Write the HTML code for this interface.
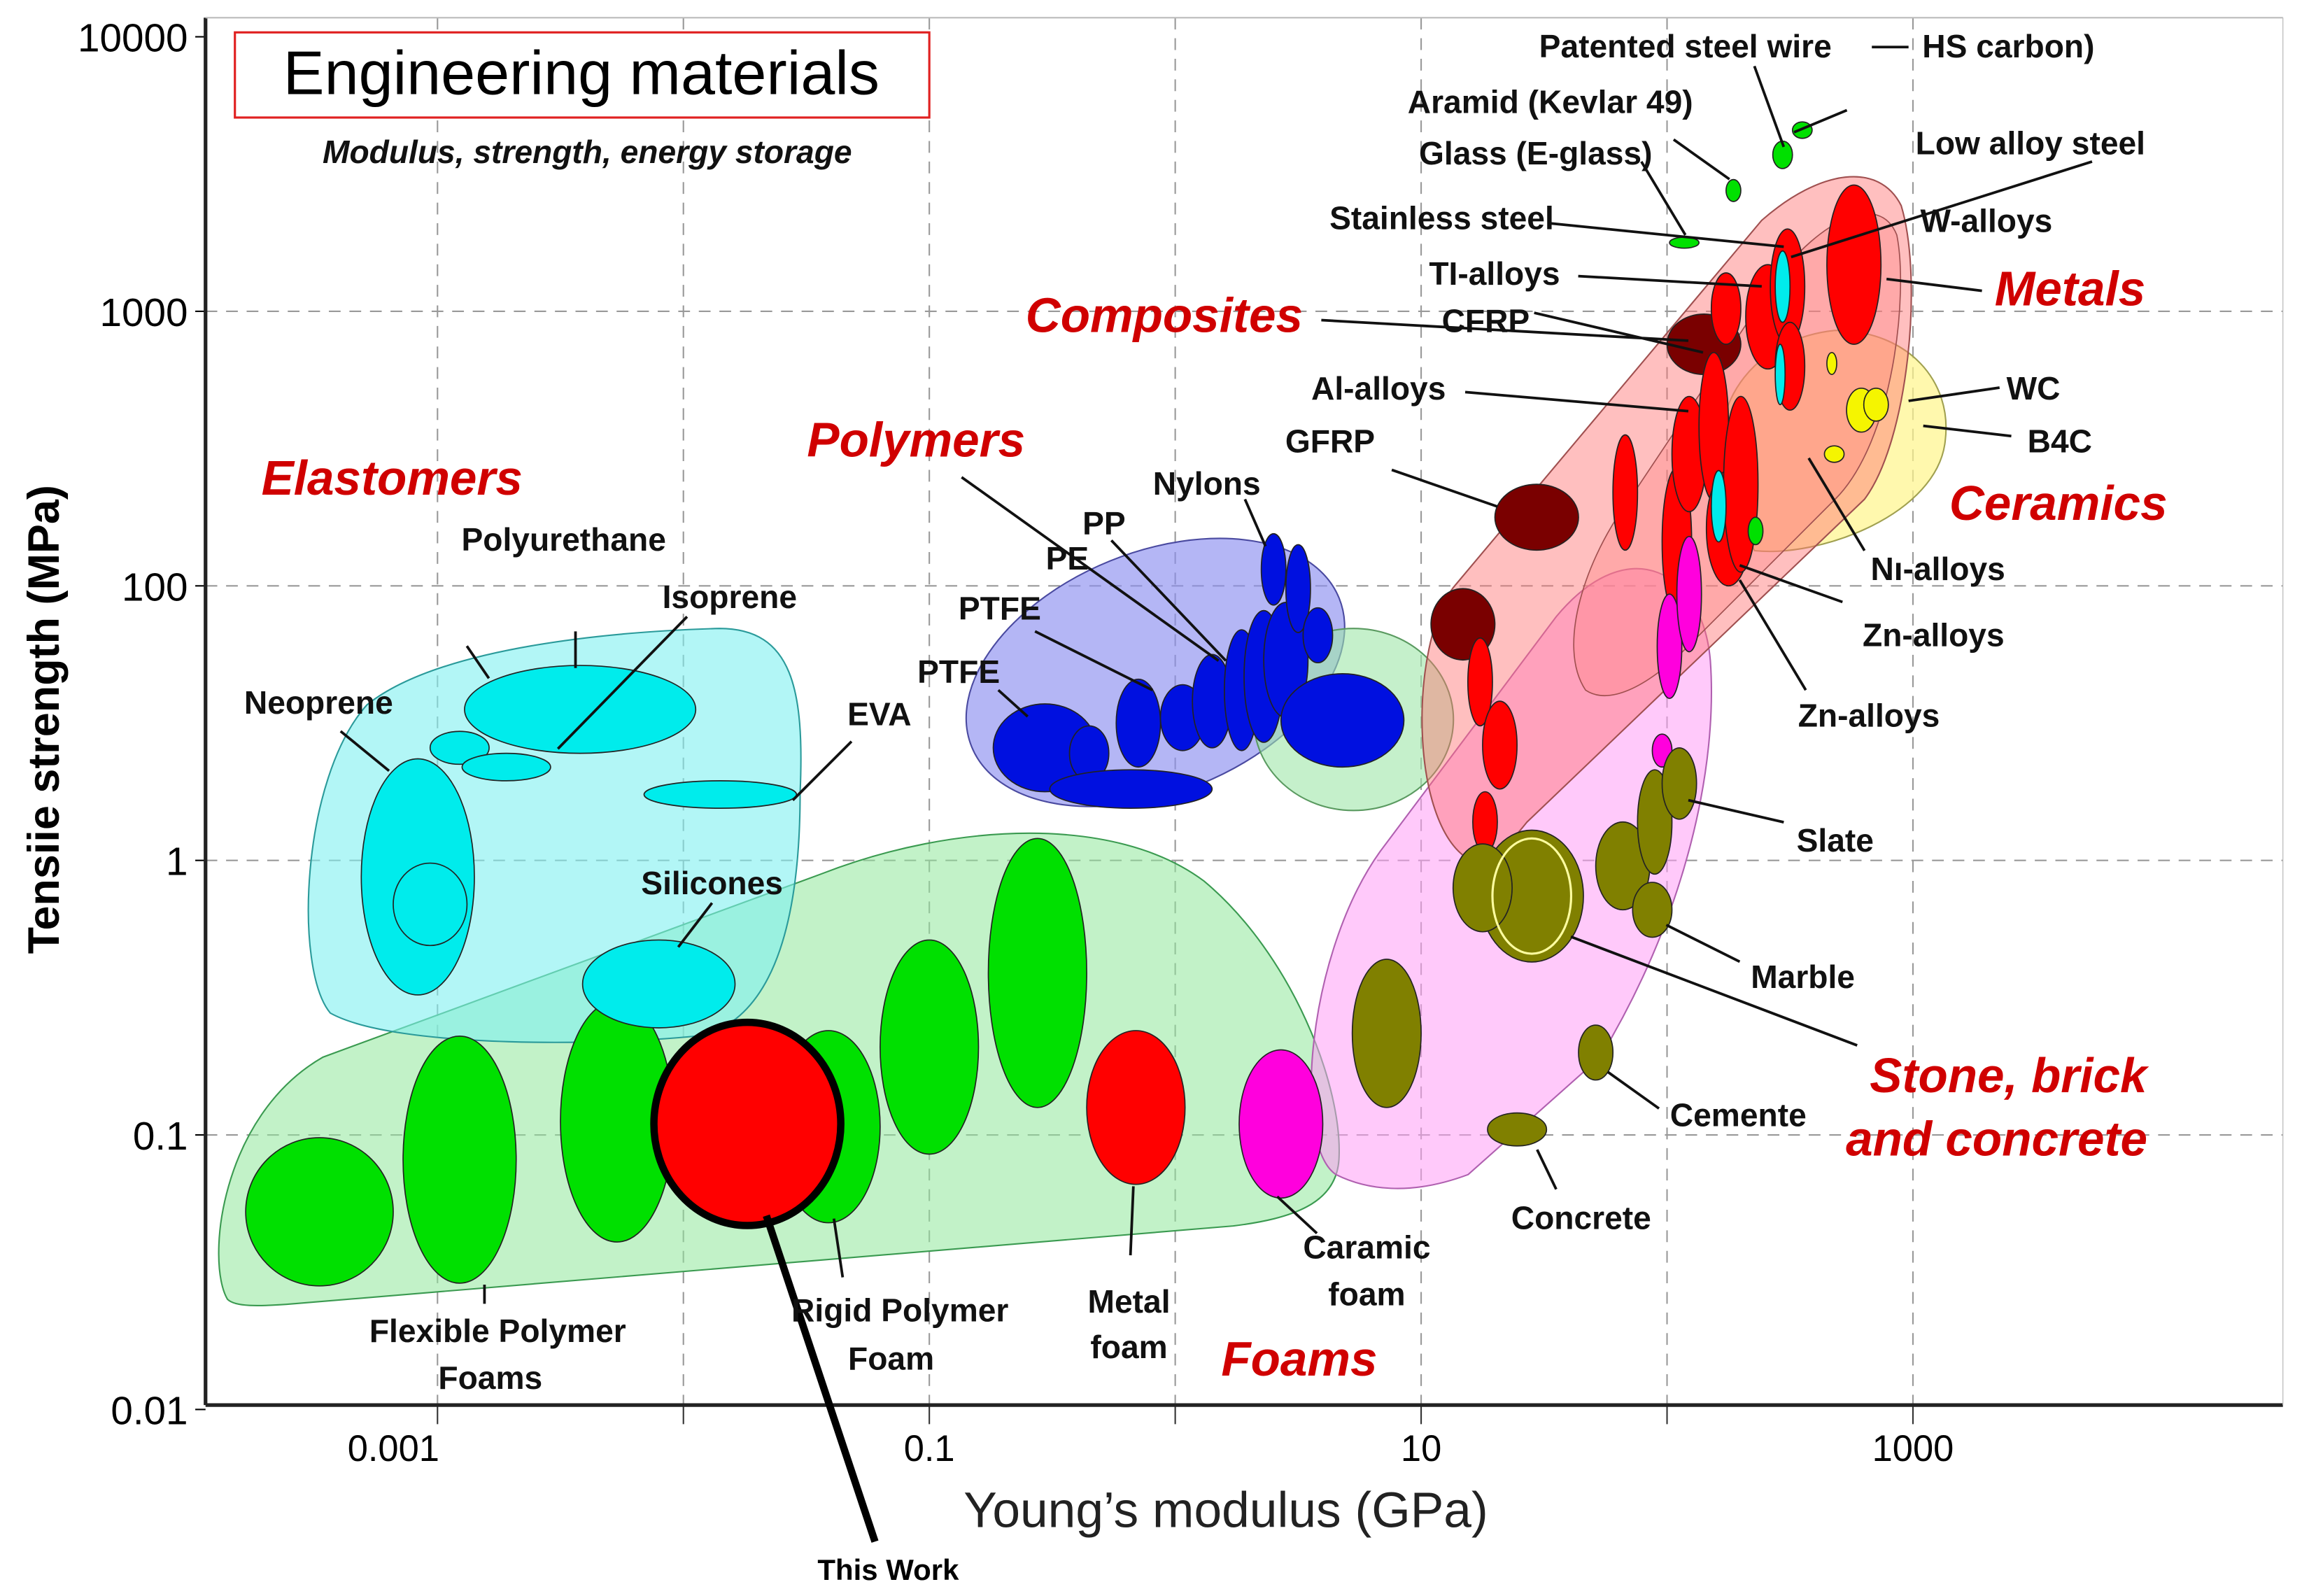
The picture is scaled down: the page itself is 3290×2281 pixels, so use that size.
<!DOCTYPE html>
<html><head><meta charset="utf-8"><style>
html,body{margin:0;padding:0;background:#fff;}
svg{display:block;}
text{font-family:"Liberation Sans",sans-serif;}
.lb{font-weight:bold;font-size:22px;fill:#111;text-anchor:middle;}
.cat{font-weight:bold;font-style:italic;font-size:33px;fill:#d00000;text-anchor:middle;}
.ld{stroke:#111;stroke-width:1.8;fill:none;}
</style></head><body>
<svg id="chart" width="3290" height="2281" viewBox="0 0 1568 1087" xmlns="http://www.w3.org/2000/svg">
<rect width="1568" height="1087" fill="#fff"/>
<g id="grid"></g>
<g id="env">
 <path d="M155,885 C140,860 150,760 220,720 L560,595 C650,560 760,555 820,600 C880,650 915,740 912,790 C910,820 880,830 840,835 L200,888 C175,890 160,890 155,885Z" fill="#8fe89a" fill-opacity="0.55" stroke="#3a9a50" stroke-width="1"/>
 <path d="M225,690 C200,660 205,530 250,480 C300,440 420,430 490,428 C540,428 548,470 545,540 C545,620 530,690 480,705 C420,712 270,715 225,690Z" fill="#7ff0f0" fill-opacity="0.6" stroke="#2a9a9a" stroke-width="1"/>
 <ellipse cx="787" cy="458" rx="135" ry="82" transform="rotate(-22 787 458)" fill="#8c8ff0" fill-opacity="0.65" stroke="#4a4aa0" stroke-width="1"/>
 <ellipse cx="922" cy="490" rx="68" ry="62" fill="#9ee6a8" fill-opacity="0.6" stroke="#5a9a60" stroke-width="1"/>
 <path d="M910,800 C880,780 890,650 940,580 L1060,420 C1110,360 1160,390 1165,450 C1170,520 1150,620 1090,720 L1000,800 C960,815 930,810 910,800Z" fill="#ff9cf5" fill-opacity="0.55" stroke="#b060b0" stroke-width="1"/>
 <path d="M1175,330 C1160,270 1200,230 1250,225 C1300,225 1330,260 1325,300 C1320,350 1240,380 1195,375Z" fill="#fff58a" fill-opacity="0.7" stroke="#a0a050" stroke-width="1"/>
 <path d="M1000,585 C960,560 960,440 990,400 L1200,150 C1240,115 1280,110 1295,140 C1310,190 1300,300 1270,340 L1040,560 C1020,585 1010,590 1000,585Z" fill="#ff7070" fill-opacity="0.45" stroke="#a05050" stroke-width="1"/>
 <path d="M1080,470 C1060,440 1080,380 1110,340 L1210,190 C1240,150 1280,130 1292,160 C1300,200 1290,300 1250,340 L1150,440 C1120,470 1095,480 1080,470Z" fill="#ff8080" fill-opacity="0.35" stroke="#a05050" stroke-width="0.8"/>
</g>
<g id="marks"></g>
<g id="axes"></g>
<g id="labels">
 <rect x="160" y="22" width="473" height="58" fill="#fff" stroke="#e02020" stroke-width="1.5"/>
 <text x="396" y="64" font-size="42" text-anchor="middle" fill="#000">Engineering materials</text>
 <text x="400" y="111" font-size="22" font-weight="bold" font-style="italic" text-anchor="middle" fill="#111">Modulus, strength, energy storage</text>
 <text transform="translate(40,490) rotate(-90)" font-size="30" font-weight="bold" text-anchor="middle" fill="#000">Tensiie strength (MPa)</text>
 <text x="835" y="1040" font-size="34" text-anchor="middle" fill="#222">Young’s modulus (GPa)</text>

 <text class="cat" x="267" y="337">Elastomers</text>
 <text class="cat" x="624" y="311">Polymers</text>
 <text class="cat" x="793" y="226">Composites</text>
 <text class="cat" x="1410" y="208">Metals</text>
 <text class="cat" x="1402" y="354">Ceramics</text>
 <text class="cat" x="1368" y="744">Stone, brick</text>
 <text class="cat" x="1360" y="787">and concrete</text>
 <text class="cat" x="885" y="937">Foams</text>

 <g>
 <path class="ld" d="M1195,45 L1215,100 M1275,32 L1300,32 M1258,75 L1222,90 M1140,95 L1178,122 M1118,110 L1148,160 M1055,152 L1215,168 M1425,110 L1220,175 M1350,198 L1285,190 M1075,188 L1200,195 M900,218 L1150,232 M1045,213 L1160,240 M998,267 L1150,280 M1362,264 L1300,273 M1370,297 L1310,290 M948,320 L1020,345 M1270,375 L1232,312 M1255,410 L1185,385 M1230,470 L1185,395 M1215,560 L1150,545 M1185,655 L1135,630 M1265,712 L1070,638 M1130,755 L1095,730 M1060,810 L1047,783 M333,462 L318,440 M392,455 L392,430 M468,420 L380,510 M232,498 L265,525 M580,505 L540,545 M485,615 L462,645 M655,325 L830,450 M757,368 L835,450 M705,430 L785,470 M680,470 L700,488 M848,340 L862,372 M330,875 L330,888 M568,830 L574,870 M772,808 L770,855 M870,815 L897,840"/>
 <path d="M522,828 L596,1050" stroke="#000" stroke-width="5" fill="none"/>
 </g>
 <text class="lb" x="1148" y="39">Patented steel wire</text>
 <text class="lb" x="1368" y="39">HS carbon)</text>
 <text class="lb" x="1056" y="77">Aramid (Kevlar 49)</text>
 <text class="lb" x="1046" y="112">Glass (E-glass)</text>
 <text class="lb" x="982" y="156">Stainless steel</text>
 <text class="lb" x="1383" y="105">Low alloy steel</text>
 <text class="lb" x="1353" y="158">W-alloys</text>
 <text class="lb" x="1018" y="194">TI-alloys</text>
 <text class="lb" x="1012" y="226">CFRP</text>
 <text class="lb" x="939" y="272">Al-alloys</text>
 <text class="lb" x="906" y="308">GFRP</text>
 <text class="lb" x="1385" y="272">WC</text>
 <text class="lb" x="1403" y="308">B4C</text>
 <text class="lb" x="1320" y="395">Nı-alloys</text>
 <text class="lb" x="1317" y="440">Zn-alloys</text>
 <text class="lb" x="1273" y="495">Zn-alloys</text>
 <text class="lb" x="1250" y="580">Slate</text>
 <text class="lb" x="1228" y="673">Marble</text>
 <text class="lb" x="1184" y="767">Cemente</text>
 <text class="lb" x="1077" y="837">Concrete</text>
 <text class="lb" x="384" y="375">Polyurethane</text>
 <text class="lb" x="497" y="414">Isoprene</text>
 <text class="lb" x="217" y="486">Neoprene</text>
 <text class="lb" x="599" y="494">EVA</text>
 <text class="lb" x="485" y="609">Silicones</text>
 <text class="lb" x="822" y="337">Nylons</text>
 <text class="lb" x="752" y="364">PP</text>
 <text class="lb" x="727" y="388">PE</text>
 <text class="lb" x="681" y="422">PTFE</text>
 <text class="lb" x="653" y="465">PTFE</text>
 <text class="lb" x="339" y="914">Flexible Polymer</text>
 <text class="lb" x="334" y="946">Foams</text>
 <text class="lb" x="613" y="900">Rigid Polymer</text>
 <text class="lb" x="607" y="933">Foam</text>
 <text class="lb" x="769" y="894">Metal</text>
 <text class="lb" x="769" y="925">foam</text>
 <text class="lb" x="931" y="857">Caramic</text>
 <text class="lb" x="931" y="889">foam</text>
 <text x="605" y="1076" font-size="20" font-weight="bold" text-anchor="middle" fill="#000">This Work</text>
</g>
<script>
const xTickValues=[0.001,0.1,10,1000];
const xTickLabels=["0.001","0.1","10","1000"];
const yTickValues=[10000,1000,100,10,1,0.1];
const yTickLabels=["10000","1000","100","1","0.1","0.01"];
// ellipses: log10 modulus, log10 strength, half-widths in decades, colour key
const logE=[-3.48,-2.91,-2.27,-1.41,-1,-0.56,-0.16,0.43,
 -3.08,-3.03,-2.91,-2.72,-2.42,-1.85,-2.10,
 -0.53,-0.35,-0.18,-0.15,0.03,0.15,0.27,0.36,0.45,0.40,0.50,0.58,0.68,
 1.47,1.17,2.15,
 1.24,1.32,1.26,1.83,2.04,2.09,2.19,2.25,2.30,2.24,2.41,2.49,2.76,2.50,
 2.47,2.46,2.21,
 2.01,2.09,1.98,
 2.79,2.85,2.67,2.68,
 2.27,2.07,2.47,2.55,2.36,
 1.45,1.25,1.82,1.95,2.05,1.94,0.86,1.71,1.39,1.45,
 -1.74];
const logS=[-0.28,-0.09,0.05,0.03,0.32,0.59,0.10,0.04,
 0.94,0.84,1.41,1.34,1.55,1.24,0.55,
 1.41,1.39,1.26,1.50,1.52,1.58,1.62,1.67,1.73,2.06,1.99,1.82,1.51,
 2.25,1.86,2.88,
 1.65,1.42,1.14,2.34,2.16,2.48,2.58,2.21,2.37,3.01,2.98,3.09,3.17,2.80,
 3.09,2.77,2.29,
 1.78,1.97,1.40,
 2.64,2.66,2.81,2.48,
 3.44,3.25,3.57,3.66,2.20,
 0.87,0.90,0.98,1.14,1.28,0.82,0.37,0.30,0.02,0.87,
 0.04];
const spanE=[.30,.23,.23,.21,.20,.20,.20,.17,
 .23,.15,.12,.18,.47,.31,.31,
 .21,.08,.33,.09,.09,.08,.07,.08,.09,.05,.05,.06,.25,
 .17,.13,.15,
 .05,.07,.05,.05,.06,.07,.06,.09,.07,.06,.09,.07,.11,.06,
 .03,.02,.03,
 .05,.05,.04,
 .06,.05,.02,.04,
 .03,.06,.04,.04,.03,
 .21,.12,.11,.07,.07,.08,.14,.07,.12,.16,
 .38];
const spanS=[.27,.45,.44,.35,.39,.49,.28,.27,
 .43,.15,.06,.05,.16,.05,.16,
 .16,.10,.07,.16,.12,.17,.22,.24,.21,.13,.16,.10,.17,
 .12,.13,.11,
 .16,.16,.11,.21,.27,.21,.27,.21,.32,.13,.19,.21,.29,.16,
 .13,.11,.13,
 .19,.21,.06,
 .08,.06,.04,.03,
 .04,.02,.05,.03,.05,
 .24,.16,.16,.19,.13,.10,.27,.10,.06,.21,
 .37];
const kinds=["g","g","g","g","g","g","r","m",
 "c","c","c","c","c","c","c",
 "b","b","b","b","b","b","b","b","b","b","b","b","b",
 "d","d","d",
 "r","r","r","r","r","r","r","r","r","r","r","r","r","r",
 "c","c","c",
 "m","m","m",
 "y","y","y","y",
 "g","g","g","g","g",
 "o","o","o","o","o","o","o","o","o","oi",
 "tw"];
const fills={g:"#00e000",r:"#ff0000",m:"#ff00dd",c:"#00ecec",b:"#0010e0",d:"#7a0000",y:"#f5f500",o:"#808000",oi:"none",tw:"#ff0000"};
const NS="http://www.w3.org/2000/svg";
function xS(v){return 633+(Math.log10(v)+1)*167.5;}
function yS(v){return 212-(Math.log10(v)-3)*187;}
function xL(l){return 633+(l+1)*167.5;}
function yL(l){return 212-(l-3)*187;}
const grid=document.getElementById('grid'),axes=document.getElementById('axes'),marks=document.getElementById('marks');
for(let d=-3.8;d<=3.6;d+=1){}
for(let k=-4;k<=3;k++){
 const x=xL(k);
 if(x<145||x>1550) continue;
 const l=document.createElementNS(NS,'line');
 
 
 l.setAttribute('x1',x);l.setAttribute('x2',x);l.setAttribute('y1',12);l.setAttribute('y2',957);
 l.setAttribute('stroke','#999');l.setAttribute('stroke-dasharray','8,6');l.setAttribute('stroke-width','1');
 grid.appendChild(l);
}
yTickValues.forEach((v,i)=>{
 const y=yS(v);
 const l=document.createElementNS(NS,'line');
 
 
 l.setAttribute('x1',140);l.setAttribute('x2',1555);l.setAttribute('y1',y);l.setAttribute('y2',y);
 l.setAttribute('stroke','#999');l.setAttribute('stroke-dasharray','8,6');l.setAttribute('stroke-width','1');
 if(i>0&&i<5) grid.appendChild(l);
 const t=document.createElementNS(NS,'text');
 
 
 t.setAttribute('x',128);t.setAttribute('y',y+10);t.setAttribute('text-anchor','end');t.setAttribute('font-size','27');
 t.textContent=yTickLabels[i];axes.appendChild(t);
 const tk=document.createElementNS(NS,'line');
 
 
 tk.setAttribute('x1',133);tk.setAttribute('x2',140);tk.setAttribute('y1',y);tk.setAttribute('y2',y);tk.setAttribute('stroke','#000');
 axes.appendChild(tk);
});
xTickValues.forEach((v,i)=>{
 const t=document.createElementNS(NS,'text');
 
 
 t.setAttribute('x',xS(v)-(i===0?30:0));t.setAttribute('y',995);t.setAttribute('text-anchor','middle');t.setAttribute('font-size','25');
 t.textContent=xTickLabels[i];axes.appendChild(t);
});
for(let k=-4;k<=3;k++){const x=xL(k);if(x<145)continue;
 const tk=document.createElementNS(NS,'line');
 
 
 tk.setAttribute('x1',x);tk.setAttribute('x2',x);tk.setAttribute('y1',957);tk.setAttribute('y2',970);tk.setAttribute('stroke','#333');
 axes.appendChild(tk);}
[[140,12,140,957,2.5],[140,957,1555,957,2.5],[140,12,1555,12,1],[1555,12,1555,957,0.6]].forEach(a=>{
 const l=document.createElementNS(NS,'line');
 
 
 l.setAttribute('x1',a[0]);l.setAttribute('y1',a[1]);l.setAttribute('x2',a[2]);l.setAttribute('y2',a[3]);
 l.setAttribute('stroke',a[4]>1?'#222':'#bbb');l.setAttribute('stroke-width',a[4]);
 axes.appendChild(l);
});
logE.forEach((e,i)=>{
 const el=document.createElementNS(NS,'ellipse');
 
 
 el.setAttribute('cx',xL(e));el.setAttribute('cy',yL(logS[i]));
 el.setAttribute('rx',spanE[i]*167.5);el.setAttribute('ry',spanS[i]*187);
 el.setAttribute('fill',fills[kinds[i]]);
 if(kinds[i]==='tw'){el.setAttribute('stroke','#000');el.setAttribute('stroke-width','5');}
 else if(kinds[i]==='oi'){el.setAttribute('stroke','#ffffa0');el.setAttribute('stroke-width','1.5');}
 else {el.setAttribute('stroke','#222');el.setAttribute('stroke-width','0.8');}
 marks.appendChild(el);
});
</script>
</svg>
</body></html>
